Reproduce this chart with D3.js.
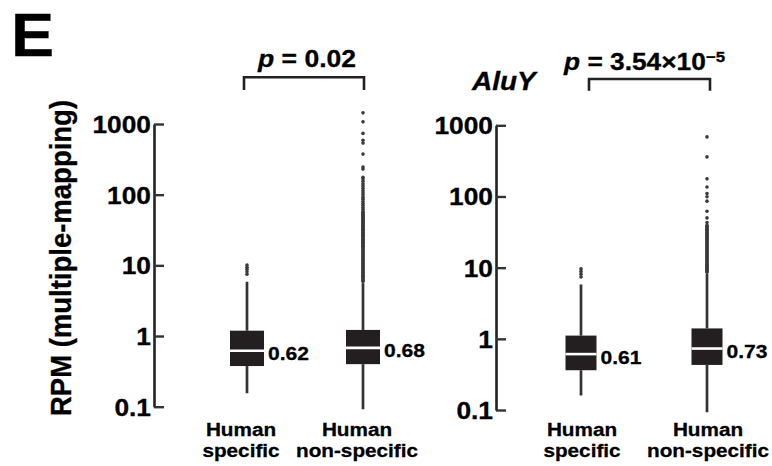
<!DOCTYPE html>
<html><head><meta charset="utf-8">
<script src="https://cdn.jsdelivr.net/npm/d3@7"></script>
<style>
body{margin:0;background:#fff}
text{font-family:"Liberation Sans",Arial,Helvetica,sans-serif;font-weight:bold;fill:#000;stroke:#000;stroke-width:0.3px}
</style>
</head><body>
<svg id="c" width="772" height="466"></svg>
<script>
// ---------------- DATA ----------------
const categories = ["Human specific", "Human non-specific"];
const categoryLines = [["Human", "specific"], ["Human", "non-specific"]];
const yTicks = [0.1, 1, 10, 100, 1000];
const yTickLabels = ["0.1", "1", "10", "100", "1000"];

// Panel 1 (all)
const p1Q1 = [0.376, 0.40];
const p1Median = [0.62, 0.68];
const p1Q3 = [1.19, 1.22];
const p1WhiskerLow = [0.155, 0.092];
const p1WhiskerHigh = [5.86, 5.6];
const p1MedianLabels = ["0.62", "0.68"];
const p1OutliersSpecific = [7.5, 8.1, 8.8, 9.4, 10.1];
const p1OutliersNonSpecific = [
  5.9, 6.1, 6.3, 6.6, 6.8, 7.0, 7.2, 7.5, 7.8, 8.0, 8.3, 8.6, 8.9, 9.2, 9.5, 9.8, 10.1,
  10.5, 10.8, 11.2, 11.6, 12.0, 12.3, 12.7, 13.1, 13.6, 14.0, 14.5, 15.0, 15.4,
  15.9, 16.5, 17.0, 17.6, 18.2, 18.7, 19.3, 20.0, 20.6, 21.3, 22.0, 22.7, 23.4, 24.2,
  25.1, 25.9, 26.7, 27.6, 28.5, 29.5, 30.5, 31.4, 32.4, 33.5, 34.6, 35.8, 37.0,
  38.2, 39.4, 40.7, 42.0, 43.4, 44.9, 46.3, 47.8, 49.4, 51.0, 52.7, 54.5, 56.2, 58.0,
  62.0, 66.0, 70.5, 75.0, 80.0, 86.0, 92.0,
  99.0, 106.0, 114.0, 123.0, 133.0, 143.0, 155.0, 166.0, 176.0,
  230, 246, 375, 537, 590, 736, 1073, 1439
];
const p1PValue = "0.02";

// Panel 2 (AluY)
const p2Title = "AluY";
const p2Q1 = [0.362, 0.43];
const p2Median = [0.61, 0.73];
const p2Q3 = [1.11, 1.40];
const p2WhiskerLow = [0.16, 0.093];
const p2WhiskerHigh = [5.8, 8.2];
const p2MedianLabels = ["0.61", "0.73"];
const p2OutliersSpecific = [7.4, 8.1, 8.8, 9.6];
const p2OutliersNonSpecific = [
  8.6, 8.9, 9.2, 9.5, 9.8, 10.1, 10.5, 10.8, 11.2, 11.6, 12.0, 12.4, 12.8, 13.2, 13.7,
  14.1, 14.6, 15.1, 15.6, 16.1, 16.7, 17.2, 17.8, 18.4, 19.0, 19.6, 20.3, 21.0,
  21.7, 22.4, 23.2, 24.0, 24.8, 25.6, 26.5, 27.4, 28.3, 29.2, 30.2, 31.2, 32.3, 33.4,
  34.5, 35.6, 36.8, 38.0, 39.3,
  43, 50, 62, 86, 99, 110, 136, 177, 360, 687
];
const p2PMantissa = "3.54×10";
const p2PExponent = "−5";

const yAxisTitle = "RPM (multiple-mapping)";
const panelLetter = "E";

// ---------------- DRAW ----------------
const svg = d3.select("#c");
const SX = 1.12; // horizontal glyph stretch of the reference figure

function txt(g, x, y, s, size, anchor, extra) {
  const t = g.append("text")
    .attr("transform", `translate(${x},${y}) scale(${SX},1)`)
    .attr("font-size", size)
    .attr("text-anchor", anchor || "start")
    .text(s);
  if (extra) extra(t);
  return t;
}

const panels = [
  {
    q1: p1Q1, med: p1Median, q3: p1Q3, wl: p1WhiskerLow, wh: p1WhiskerHigh,
    mlab: p1MedianLabels, out: [p1OutliersSpecific, p1OutliersNonSpecific],
    axisX: 154, yRange: [406.7, 124], xRange: [247, 363], bw: 34,
    br: {x0: 244, x1: 364, top: 77.3, bottom: 90}, labOff: -6
  },
  {
    q1: p2Q1, med: p2Median, q3: p2Q3, wl: p2WhiskerLow, wh: p2WhiskerHigh,
    mlab: p2MedianLabels, out: [p2OutliersSpecific, p2OutliersNonSpecific],
    axisX: 496, yRange: [410, 125.3], xRange: [581, 707], bw: 31,
    br: {x0: 589, x1: 710, top: 79, bottom: 90.7}, labOff: 1
  }
];

panels.forEach((P, pi) => {
  const y = d3.scaleLog().domain([0.1, 1000]).range(P.yRange);
  const x = d3.scalePoint().domain(categories).range(P.xRange);

  // axis
  const ax = svg.append("g").attr("transform", `translate(${P.axisX},0)`)
    .call(d3.axisLeft(y).tickValues(yTicks)
      .tickFormat((d, i) => yTickLabels[i])
      .tickSizeInner(-10).tickSizeOuter(0).tickPadding(3));
  ax.select(".domain").attr("stroke", "#222").attr("stroke-width", 2.6);
  ax.selectAll(".tick line").attr("stroke", "#333").attr("stroke-width", 2.4);
  ax.selectAll(".tick text")
    .attr("x", null).attr("dy", null)
    .attr("transform", `translate(-3,8.4) scale(${SX},1)`)
    .attr("font-size", 23.5)
    .attr("fill", "#000");
  ax.attr("font-family", null).attr("font-size", null);

  categories.forEach((c, i) => {
    const cx = x(c);
    const g = svg.append("g");
    // whiskers
    g.append("line").attr("x1", cx).attr("x2", cx)
      .attr("y1", y(P.q3[i])).attr("y2", y(P.wh[i]))
      .attr("stroke", "#333").attr("stroke-width", 2.7);
    g.append("line").attr("x1", cx).attr("x2", cx)
      .attr("y1", y(P.q1[i])).attr("y2", y(P.wl[i]))
      .attr("stroke", "#333").attr("stroke-width", 2.7);
    // outliers
    g.selectAll("circle.o").data(P.out[i]).join("circle")
      .attr("cx", cx).attr("cy", d => y(d)).attr("r", 1.8)
      .attr("fill", "#3a3a3a");
    // box
    g.append("rect")
      .attr("x", cx - P.bw / 2).attr("width", P.bw)
      .attr("y", y(P.q3[i])).attr("height", y(P.q1[i]) - y(P.q3[i]))
      .attr("fill", "#231f20");
    // median
    g.append("line").attr("x1", cx - P.bw / 2).attr("x2", cx + P.bw / 2)
      .attr("y1", y(P.med[i])).attr("y2", y(P.med[i]))
      .attr("stroke", "#fff").attr("stroke-width", 2.6);
    // median label
    txt(g, cx + P.bw / 2 + 4, y(P.med[i]) + 9.5, P.mlab[i], 18.8, "start");
    // category labels
    txt(g, cx + P.labOff, 436, categoryLines[i][0], 18.5, "middle");
    txt(g, cx + P.labOff, 456.5, categoryLines[i][1], 18.5, "middle");
  });

  // bracket
  svg.append("path")
    .attr("d", `M${P.br.x0},${P.br.bottom}V${P.br.top}H${P.br.x1}V${P.br.bottom}`)
    .attr("fill", "none").attr("stroke", "#222").attr("stroke-width", 2.6);
});

// p-values and titles
txt(svg, 307, 67, "", 23.7, "middle", t => {
  t.append("tspan").attr("font-style", "italic").text("p");
  t.append("tspan").text(" = " + p1PValue);
});
txt(svg, 564, 70, "", 23.5, "start", t => {
  t.append("tspan").attr("font-style", "italic").text("p");
  t.append("tspan").text(" = " + p2PMantissa);
  t.append("tspan").attr("font-size", 15).attr("dy", -8).text(p2PExponent);
});
txt(svg, 472, 90, p2Title, 25, "start", t => t.attr("font-style", "italic"));

// panel letter
svg.append("text").attr("transform", "translate(11,56) scale(1.06,1)")
  .attr("font-size", 61).text(panelLetter);

// y axis title
svg.append("text")
  .attr("transform", "translate(70.5,258) rotate(-90) scale(1,1.05)")
  .attr("text-anchor", "middle").attr("font-size", 27.5)
  .text(yAxisTitle);
</script>
</body></html>
